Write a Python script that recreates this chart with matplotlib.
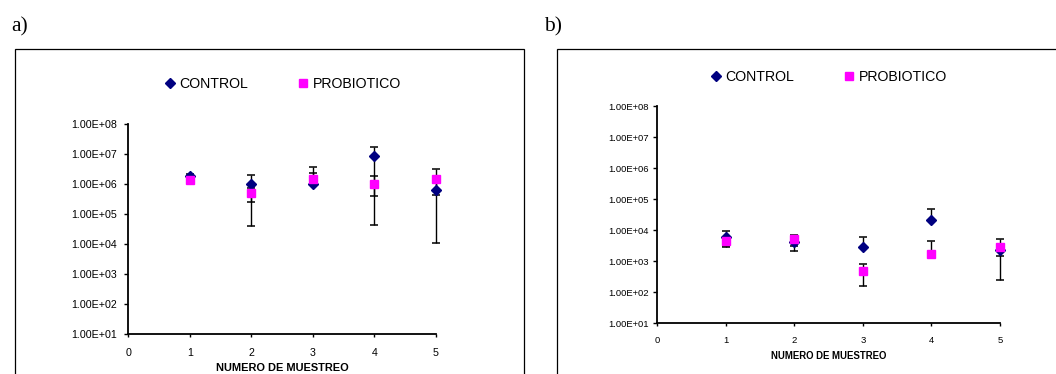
import numpy as np
import matplotlib
matplotlib.use("Agg")
import matplotlib.pyplot as plt
from matplotlib.lines import Line2D
from matplotlib.patches import Rectangle
from matplotlib.ticker import FixedLocator, FuncFormatter, NullLocator

plt.rcParams['font.family'] = ['Liberation Sans', 'DejaVu Sans']

# Sampling number
muestreo = [1, 2, 3, 4, 5]

# Panel a) counts (mean, upper and lower error-bar ends; nan = bar end not drawn)
control_a = [1.85e6, 1.0e6, 1.0e6, 8.9e6, 6.3e5]
control_a_hi = [2.15e6, 1.96e6, 2.38e6, 1.74e7, 1.25e6]
control_a_lo = [1.55e6, 4.0e4, np.nan, 4.1e5, 1.1e4]
probiotico_a = [1.35e6, 4.9e5, 1.47e6, 1.02e6, 1.47e6]
probiotico_a_hi = [1.5e6, 7.3e5, 3.78e6, 1.9e6, 3.1e6]
probiotico_a_lo = [1.2e6, 2.5e5, np.nan, 4.3e4, 4.5e5]

# Panel b) counts
control_b = [6.3e3, 4.2e3, 2.8e3, 2.2e4, 2.3e3]
control_b_hi = [9.6e3, 6.3e3, 5.9e3, 5.0e4, 3.3e3]
control_b_lo = [3.0e3, 2.1e3, np.nan, np.nan, 2.5e2]
probiotico_b = [4.4e3, 5.2e3, 4.7e2, 1.78e3, 2.9e3]
probiotico_b_hi = [5.6e3, 7.3e3, 8.1e2, 4.4e3, 5.2e3]
probiotico_b_lo = [3.2e3, 3.2e3, 1.57e2, np.nan, 1.48e3]

y_ticks = [1e1, 1e2, 1e3, 1e4, 1e5, 1e6, 1e7, 1e8]
x_ticks = [0, 1, 2, 3, 4, 5]
series_names = ["CONTROL", "PROBIOTICO"]
panel_labels = ["a)", "b)"]
x_title = "NUMERO DE MUESTREO"

NAVY = "#000080"
MAGENTA = "#FF00FF"

W, H = 1056, 374
fig = plt.figure(figsize=(W / 100, H / 100), dpi=100)


def fx(px):
    return px / W


def fy(py):
    return 1 - py / H


def sci(v, pos):
    e = int(round(np.log10(v)))
    return f"1.00E+{e:02d}"


def error_bars(ax, x, mean, hi, lo, cap):
    for xi, m, h, l in zip(x, mean, hi, lo):
        bottom = m if np.isnan(l) else l
        ax.vlines(xi, bottom, h, color="black", lw=1.0, zorder=2, clip_on=False)
        ax.plot([xi], [h], marker="_", ms=cap, mew=1.1, color="black",
                zorder=2, clip_on=False)
        if not np.isnan(l):
            ax.plot([xi], [l], marker="_", ms=cap, mew=1.1, color="black",
                    zorder=2, clip_on=False)


def panel(rect, data, fs_tick, fs_label, label_y, tick_pad, ytick_pad, legend_xy):
    ax = fig.add_axes(rect)
    c, c_hi, c_lo, p, p_hi, p_lo = data
    ax.set_yscale("log")
    error_bars(ax, muestreo, c, c_hi, c_lo, 6)
    error_bars(ax, muestreo, p, p_hi, p_lo, 6)
    ax.plot(muestreo, c, ls="none", marker="D", ms=5.0, color=NAVY, zorder=3,
            clip_on=False)
    ax.plot(muestreo, p, ls="none", marker="s", ms=5.5, color=MAGENTA, zorder=4,
            clip_on=False)
    ax.set_xlim(0, 5)
    ax.set_ylim(1e1, 1e8)
    ax.yaxis.set_major_locator(FixedLocator(y_ticks))
    ax.yaxis.set_major_formatter(FuncFormatter(sci))
    ax.yaxis.set_minor_locator(NullLocator())
    ax.set_xticks(x_ticks)
    for s in ("top", "right"):
        ax.spines[s].set_visible(False)
    for s in ("left", "bottom"):
        ax.spines[s].set_linewidth(1.3)
    ax.tick_params(axis="y", direction="out", length=3, width=1.0,
                   labelsize=fs_tick, pad=ytick_pad)
    ax.tick_params(axis="x", direction="out", length=2.5, width=1.0,
                   labelsize=fs_tick, pad=tick_pad)
    ax.set_xlabel(x_title, fontsize=fs_label, fontweight="bold", va="center")
    ax.xaxis.set_label_coords(0.5, label_y)
    handles = [
        Line2D([], [], ls="none", marker="D", ms=5.0, color=NAVY),
        Line2D([], [], ls="none", marker="s", ms=5.5, color=MAGENTA),
    ]
    fig.legend(handles, series_names, loc="center", bbox_to_anchor=legend_xy,
               bbox_transform=fig.transFigure, ncol=2, frameon=False,
               fontsize=10.2, handlelength=0.8, handletextpad=0.25,
               columnspacing=3.5, borderpad=0, borderaxespad=0)
    return ax


# Outer frames around each panel
fig.patches.append(Rectangle((fx(15), fy(400)), fx(523.5) - fx(15), fy(49.3) - fy(400),
                             transform=fig.transFigure, fill=False, ec="black", lw=0.9))
fig.patches.append(Rectangle((fx(556.6), fy(400)), fx(1100) - fx(556.6), fy(49.3) - fy(400),
                             transform=fig.transFigure, fill=False, ec="black", lw=0.9))

panel([fx(128.3), fy(334.3), fx(435.8) - fx(128.3), fy(124) - fy(334.3)],
      (control_a, control_a_hi, control_a_lo, probiotico_a, probiotico_a_hi, probiotico_a_lo),
      7.7, 7.9, -0.160, 7.5, 5, (fx(282.5), fy(84)))

panel([fx(657.4), fy(323.3), fx(1000) - fx(657.4), fy(106.3) - fy(323.3)],
      (control_b, control_b_hi, control_b_lo, probiotico_b, probiotico_b_hi, probiotico_b_lo),
      6.8, 6.9, -0.151, 7.0, 3, (fx(828.5), fy(77)))

fig.text(fx(11), fy(31.5), panel_labels[0], family=["Liberation Serif", "DejaVu Serif"],
         fontsize=15.5, va="baseline", ha="left")
fig.text(fx(544), fy(31.5), panel_labels[1], family=["Liberation Serif", "DejaVu Serif"],
         fontsize=15.5, va="baseline", ha="left")

fig.savefig("out.png", dpi=100)
